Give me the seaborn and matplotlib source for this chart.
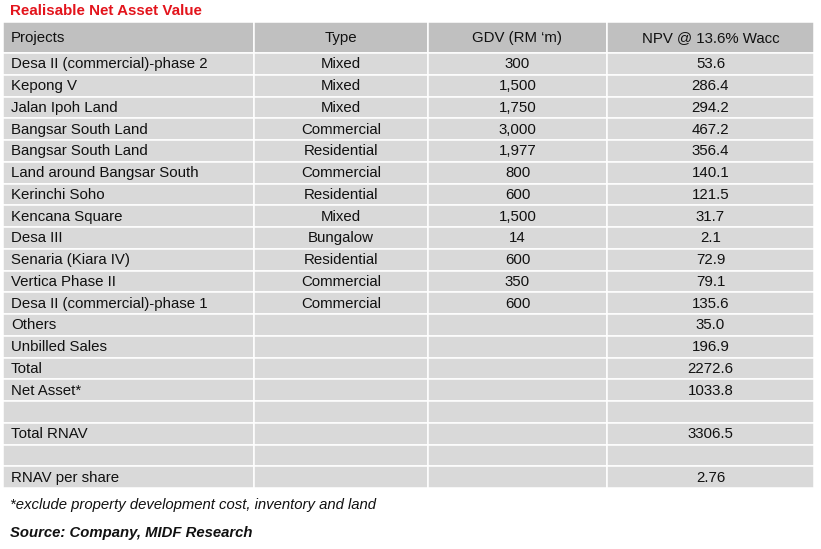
import numpy as np
import seaborn as sns
from matplotlib import pyplot as plt
from matplotlib.patches import Rectangle

# table content
title = "Realisable Net Asset Value"
headers = ["Projects", "Type", "GDV (RM \u2018m)", "NPV @ 13.6% Wacc"]
projects = ["Desa II (commercial)-phase 2", "Kepong V", "Jalan Ipoh Land", "Bangsar South Land",
            "Bangsar South Land", "Land around Bangsar South", "Kerinchi Soho", "Kencana Square",
            "Desa III", "Senaria (Kiara IV)", "Vertica Phase II", "Desa II (commercial)-phase 1",
            "Others", "Unbilled Sales", "Total", "Net Asset*", "", "Total RNAV", "", "RNAV per share"]
types = ["Mixed", "Mixed", "Mixed", "Commercial", "Residential", "Commercial", "Residential", "Mixed",
         "Bungalow", "Residential", "Commercial", "Commercial", "", "", "", "", "", "", "", ""]
gdv = ["300", "1,500", "1,750", "3,000", "1,977", "800", "600", "1,500", "14", "600", "350", "600",
       "", "", "", "", "", "", "", ""]
npv = ["53.6", "286.4", "294.2", "467.2", "356.4", "140.1", "121.5", "31.7", "2.1", "72.9", "79.1", "135.6",
       "35.0", "196.9", "2272.6", "1033.8", "", "3306.5", "", "2.76"]
footnote = "*exclude property development cost, inventory and land"
source = "Source: Company, MIDF Research"

sns.set_theme(style="white")
plt.rcParams['font.family'] = ['Liberation Sans', 'DejaVu Sans']

fig = plt.figure(figsize=(8.21, 5.49), dpi=100)
ax = fig.add_axes([0, 0, 1, 1])
ax.set_xlim(0, 821)
ax.set_ylim(549, 0)
ax.axis('off')

col_edges = [3, 254, 428, 607, 814]
head_top, head_h, row_h = 22, 31, 21.75
fs = 10.8

def draw_row(y0, h, cells, color):
    for j, txt in enumerate(cells):
        x0, x1 = col_edges[j], col_edges[j + 1]
        ax.add_patch(Rectangle((x0, y0), x1 - x0, h, facecolor=color, edgecolor='white', linewidth=1.1))
        if j == 0:
            ax.text(x0 + 8, y0 + h / 2 + 0.5, txt, ha='left', va='center', fontsize=fs, color='#111111')
        else:
            ax.text((x0 + x1) / 2, y0 + h / 2 + 0.5, txt, ha='center', va='center', fontsize=fs, color='#111111')

draw_row(head_top, head_h, headers, '#c0c0c0')
body_top = head_top + head_h
for i, row in enumerate(zip(projects, types, gdv, npv)):
    draw_row(body_top + i * row_h, row_h, row, '#d9d9d9')

ax.text(10, 11, title, fontsize=10.9, fontweight='bold', color='#e3141c', ha='left', va='center')
ax.text(10, 505, footnote, fontsize=10.7, style='italic', color='#111111', ha='left', va='center')
ax.text(10, 533, source, fontsize=10.7, style='italic', fontweight='bold', color='#111111',
        ha='left', va='center')

fig.savefig("out.png", dpi=100)
